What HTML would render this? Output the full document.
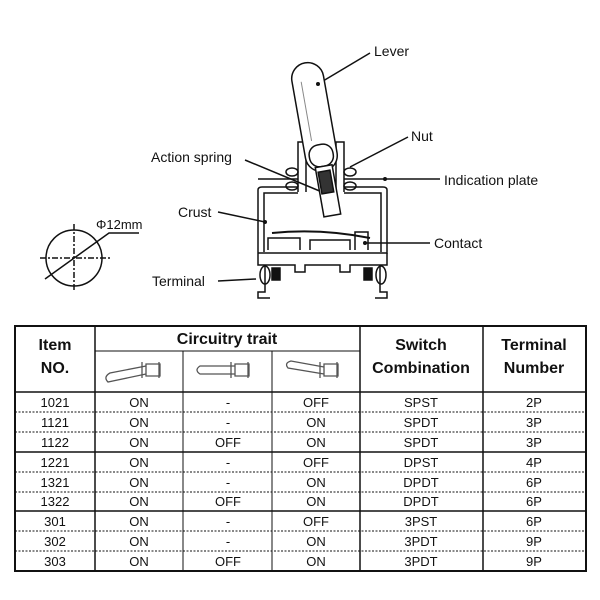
<!DOCTYPE html>
<html><head><style>
body{margin:0;background:#fff;width:600px;height:600px;overflow:hidden;font-family:"Liberation Sans",sans-serif}
</style></head><body>
<svg width="600" height="600" viewBox="0 0 600 600" xmlns="http://www.w3.org/2000/svg" style="position:absolute;left:0;top:0">
<g font-family="Liberation Sans, sans-serif" font-size="14" fill="#111">
<text x="374" y="56">Lever</text>
<text x="411" y="141">Nut</text>
<text x="151" y="162">Action spring</text>
<text x="444" y="185">Indication plate</text>
<text x="178" y="217">Crust</text>
<text x="434" y="248">Contact</text>
<text x="152" y="286">Terminal</text>
<text x="96" y="229" font-size="13">Φ12mm</text>
</g>
<g stroke="#111" stroke-width="1.5" fill="none">
<circle cx="74" cy="258" r="28"/>
<line x1="40" y1="258" x2="110" y2="258" stroke-dasharray="6,2,2,2"/>
<line x1="74" y1="224" x2="74" y2="292" stroke-dasharray="6,2,2,2"/>
<polyline points="45,279 109,233 139,233"/>
<line x1="318" y1="84" x2="370" y2="53"/>
<line x1="350" y1="167" x2="408" y2="137"/>
<line x1="245" y1="160" x2="322" y2="192"/>
<line x1="385" y1="179" x2="440" y2="179"/>
<line x1="218" y1="212" x2="265" y2="222"/>
<line x1="365" y1="243" x2="430" y2="243"/>
<line x1="218" y1="281" x2="256" y2="279"/>
<path d="M298,192 V142 H306 V192 M344,192 V142 H336 V192"/>
<line x1="258" y1="179" x2="298" y2="179"/><line x1="344" y1="179" x2="385" y2="179"/>
<ellipse cx="292" cy="172" rx="6" ry="4"/><ellipse cx="292" cy="186" rx="6" ry="4"/>
<ellipse cx="350" cy="172" rx="6" ry="4"/><ellipse cx="350" cy="186" rx="6" ry="4"/>
<path d="M258,253 V190 Q258,187 262,187 H298 M344,187 H383 Q387,187 387,190 V253 H258"/>
<path d="M264,252 V193 H298 M344,193 H381 V252"/>
<path d="M268,250 V238 H300 V250 M310,250 V240 H350 V250 M355,250 V232 H368 V250"/>
<path d="M272,233 Q320,228 370,238" stroke-width="2"/>
<path d="M258,253 V265 H295 V272 H305 V265 H340 V272 H350 V265 H387 V253"/>
<path d="M265,265 V292 H258 V298 H270 M380,265 V292 H387 V298 H375"/>
<rect x="272" y="268" width="8" height="12" fill="#111"/>
<rect x="364" y="268" width="8" height="12" fill="#111"/>
<ellipse cx="265" cy="275" rx="5" ry="9"/><ellipse cx="381" cy="275" rx="5" ry="9"/>
<g transform="rotate(-10 315 120)">
<rect x="299" y="62" width="32" height="110" rx="16" fill="#fff"/>
<line x1="308" y1="80" x2="308" y2="140" stroke-width="1" stroke="#888"/>
<rect x="303" y="145" width="24" height="22" rx="10" fill="#fff"/>
<rect x="307" y="167" width="17" height="50" fill="#fff"/>
<rect x="309" y="172" width="12" height="22" fill="#333"/>
</g>
</g>
<circle cx="318" cy="84" r="2" fill="#111"/>
<circle cx="265" cy="222" r="2" fill="#111"/>
<circle cx="365" cy="243" r="2" fill="#111"/>
<circle cx="385" cy="179" r="2" fill="#111"/>
<g stroke="#111" fill="none">
<rect x="15" y="326" width="571" height="245" stroke-width="2"/>
<line x1="95" y1="326" x2="95" y2="571" stroke-width="1.5"/>
<line x1="183" y1="351" x2="183" y2="571"/>
<line x1="272" y1="351" x2="272" y2="571"/>
<line x1="360" y1="326" x2="360" y2="571" stroke-width="1.5"/>
<line x1="483" y1="326" x2="483" y2="571" stroke-width="1.5"/>
<line x1="95" y1="351" x2="360" y2="351"/>
<line x1="15" y1="392" x2="586" y2="392" stroke-width="1.5"/>
<g stroke-dasharray="2,1.5" stroke-width="1">
<line x1="15" y1="412" x2="586" y2="412"/><line x1="15" y1="432" x2="586" y2="432"/>
<line x1="15" y1="472" x2="586" y2="472"/><line x1="15" y1="492" x2="586" y2="492"/>
<line x1="15" y1="531" x2="586" y2="531"/><line x1="15" y1="551" x2="586" y2="551"/>
</g>
<line x1="15" y1="452" x2="586" y2="452" stroke-width="1.5"/>
<line x1="15" y1="511" x2="586" y2="511" stroke-width="1.5"/>
<g stroke="#555" stroke-width="1.3">
<path d="M142,362 V378 M146,364 V376 H160 V364 Z M159,362 V378" />
<path d="M146,366 L110,373 Q103,377 108,382 L146,374"/>
<path d="M231,362 V378 M235,364 V376 H249 V364 Z M248,362 V378"/>
<path d="M235,366 H200 Q194,370 200,374 H235"/>
<path d="M320,362 V378 M324,364 V376 H338 V364 Z M337,362 V378"/>
<path d="M324,367 L291,361 Q284,363 288,368 L324,374"/>
</g>
</g>
<g font-family="Liberation Sans, sans-serif" fill="#111" text-anchor="middle">
<g font-weight="bold" font-size="16">
<text x="55" y="350">Item</text><text x="55" y="373">NO.</text>
<text x="227" y="344">Circuitry trait</text>
<text x="421" y="350">Switch</text><text x="421" y="373">Combination</text>
<text x="534" y="350">Terminal</text><text x="534" y="373">Number</text>
</g>
<g font-size="13">
<text x="55" y="407">1021</text><text x="139" y="407">ON</text><text x="228" y="407">-</text><text x="316" y="407">OFF</text><text x="421" y="407">SPST</text><text x="534" y="407">2P</text>
<text x="55" y="427">1121</text><text x="139" y="427">ON</text><text x="228" y="427">-</text><text x="316" y="427">ON</text><text x="421" y="427">SPDT</text><text x="534" y="427">3P</text>
<text x="55" y="447">1122</text><text x="139" y="447">ON</text><text x="228" y="447">OFF</text><text x="316" y="447">ON</text><text x="421" y="447">SPDT</text><text x="534" y="447">3P</text>
<text x="55" y="467">1221</text><text x="139" y="467">ON</text><text x="228" y="467">-</text><text x="316" y="467">OFF</text><text x="421" y="467">DPST</text><text x="534" y="467">4P</text>
<text x="55" y="487">1321</text><text x="139" y="487">ON</text><text x="228" y="487">-</text><text x="316" y="487">ON</text><text x="421" y="487">DPDT</text><text x="534" y="487">6P</text>
<text x="55" y="506">1322</text><text x="139" y="506">ON</text><text x="228" y="506">OFF</text><text x="316" y="506">ON</text><text x="421" y="506">DPDT</text><text x="534" y="506">6P</text>
<text x="55" y="526">301</text><text x="139" y="526">ON</text><text x="228" y="526">-</text><text x="316" y="526">OFF</text><text x="421" y="526">3PST</text><text x="534" y="526">6P</text>
<text x="55" y="546">302</text><text x="139" y="546">ON</text><text x="228" y="546">-</text><text x="316" y="546">ON</text><text x="421" y="546">3PDT</text><text x="534" y="546">9P</text>
<text x="55" y="566">303</text><text x="139" y="566">ON</text><text x="228" y="566">OFF</text><text x="316" y="566">ON</text><text x="421" y="566">3PDT</text><text x="534" y="566">9P</text>
</g>
</g>
</svg>
</body></html>
